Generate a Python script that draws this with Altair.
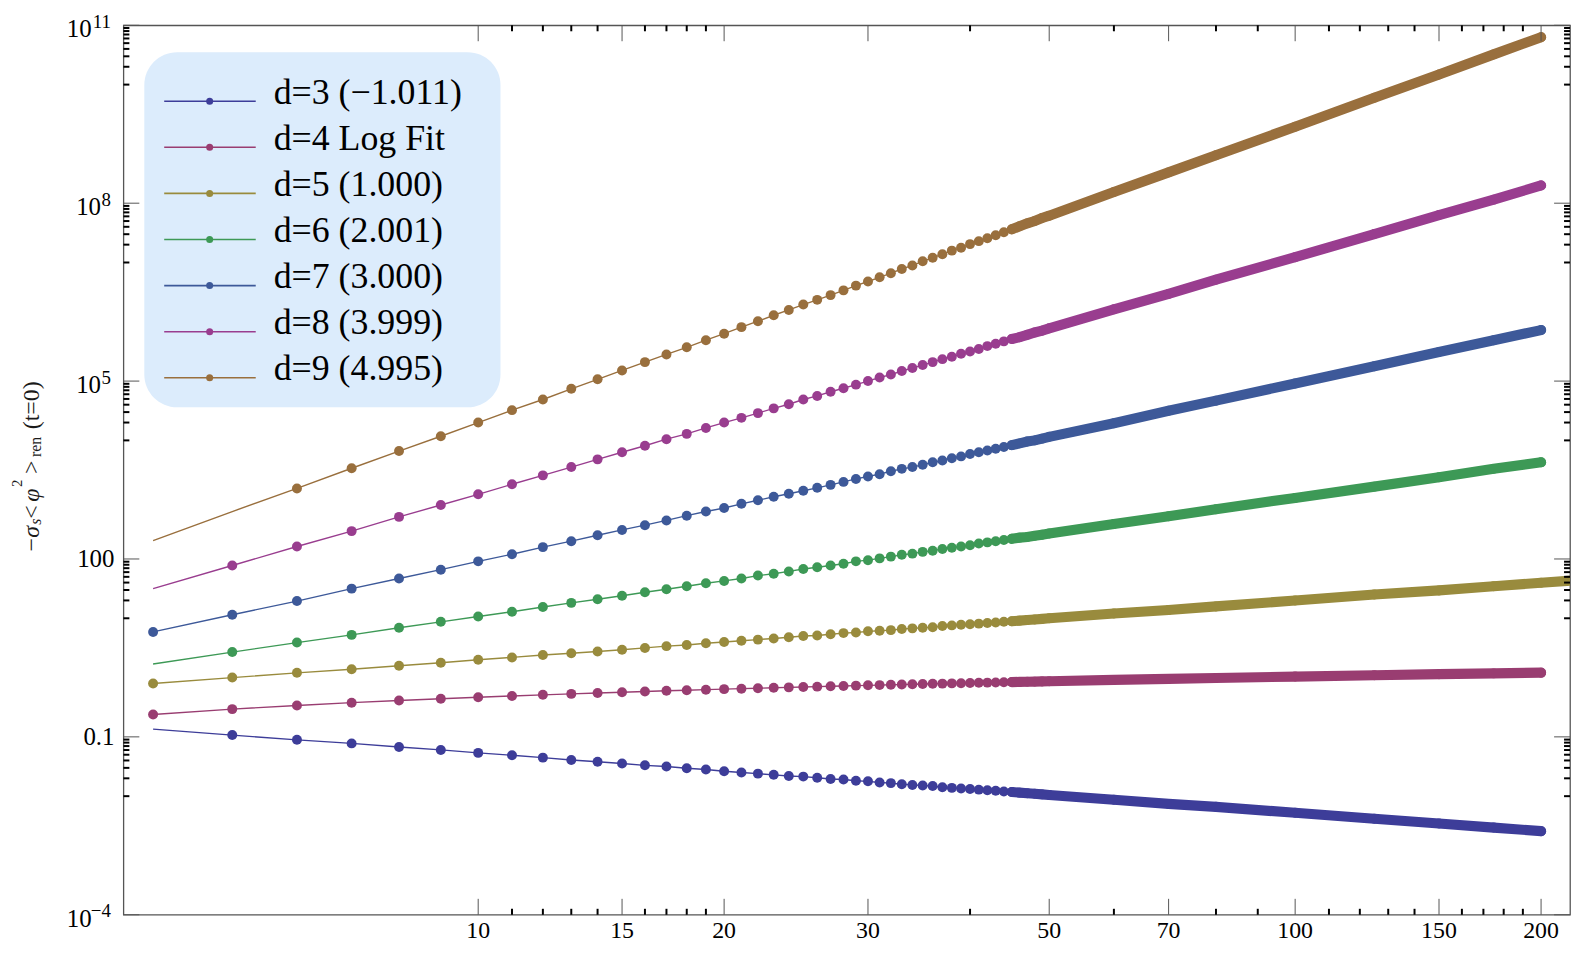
import altair as alt
import pandas as pd

# ---------------- data (log10 of -sigma_s <phi^2>_ren(t=0)) ----------------
X = list(range(4, 51)) + [60, 70, 80, 100, 125, 150, 175, 200]

DIMS = ["d=3", "d=4", "d=5", "d=6", "d=7", "d=8", "d=9"]
COLORS = ["#3d3d99", "#993d71", "#998b3d", "#3d9956", "#3d5999", "#993d8f", "#996f3d"]
LEGEND_LABELS = ["d=3 (\u22121.011)", "d=4 Log Fit", "d=5 (1.000)", "d=6 (2.001)",
                 "d=7 (3.000)", "d=8 (3.999)", "d=9 (4.995)"]
MARKER_FROM = [5, 4, 4, 5, 4, 5, 6]

LOG_D3 = [-0.87, -0.97, -1.05, -1.11, -1.17, -1.22, -1.27, -1.31, -1.35, -1.39, -1.42, -1.45,
          -1.48, -1.50, -1.53, -1.55, -1.58, -1.60, -1.62, -1.64, -1.66, -1.67, -1.69, -1.71,
          -1.72, -1.74, -1.75, -1.77, -1.78, -1.80, -1.81, -1.82, -1.83, -1.85, -1.86, -1.87,
          -1.88, -1.89, -1.90, -1.91, -1.92, -1.93, -1.94, -1.95, -1.96, -1.97, -1.98,
          -2.06, -2.13, -2.18, -2.28, -2.38, -2.46, -2.53, -2.59]
LOG_D4 = [-0.623, -0.532, -0.470, -0.423, -0.387, -0.357, -0.332, -0.310, -0.291, -0.275, -0.260,
          -0.247, -0.234, -0.223, -0.213, -0.204, -0.195, -0.187, -0.179, -0.172, -0.165, -0.159,
          -0.153, -0.147, -0.141, -0.136, -0.131, -0.127, -0.122, -0.118, -0.113, -0.109, -0.105,
          -0.102, -0.098, -0.095, -0.091, -0.088, -0.085, -0.082, -0.079, -0.076, -0.073, -0.070,
          -0.068, -0.065, -0.062,
          -0.040, -0.022, -0.007, 0.017, 0.039, 0.057, 0.071, 0.083]
LOG_D5 = [-0.10, 0.00, 0.08, 0.14, 0.20, 0.25, 0.30, 0.34, 0.38, 0.41, 0.44, 0.47, 0.50, 0.53,
          0.55, 0.58, 0.60, 0.62, 0.64, 0.66, 0.68, 0.70, 0.71, 0.73, 0.75, 0.76, 0.78, 0.79,
          0.80, 0.82, 0.83, 0.84, 0.85, 0.87, 0.88, 0.89, 0.90, 0.91, 0.92, 0.93, 0.94, 0.95,
          0.96, 0.97, 0.98, 0.99, 1.00,
          1.08, 1.14, 1.20, 1.30, 1.40, 1.47, 1.54, 1.60]
D5_EXTRA_X = [225]
D5_EXTRA = [1.65]
LOG_D6 = [0.23, 0.43, 0.59, 0.72, 0.84, 0.94, 1.03, 1.11, 1.19, 1.26, 1.32, 1.38, 1.44, 1.49,
          1.54, 1.59, 1.63, 1.67, 1.72, 1.75, 1.79, 1.83, 1.86, 1.89, 1.92, 1.96, 1.98, 2.01,
          2.04, 2.07, 2.09, 2.12, 2.14, 2.17, 2.19, 2.21, 2.23, 2.26, 2.28, 2.30, 2.32, 2.34,
          2.36, 2.37, 2.39, 2.41, 2.43,
          2.59, 2.72, 2.84, 3.03, 3.22, 3.38, 3.52, 3.63]
LOG_D7 = [0.77, 1.06, 1.29, 1.50, 1.67, 1.82, 1.96, 2.08, 2.20, 2.30, 2.40, 2.49, 2.57, 2.65,
          2.73, 2.80, 2.86, 2.93, 2.99, 3.05, 3.10, 3.15, 3.20, 3.25, 3.30, 3.35, 3.39, 3.43,
          3.48, 3.52, 3.55, 3.59, 3.63, 3.66, 3.70, 3.73, 3.77, 3.80, 3.83, 3.86, 3.89, 3.92,
          3.95, 3.98, 4.00, 4.03, 4.06,
          4.29, 4.50, 4.67, 4.96, 5.25, 5.49, 5.69, 5.86]
LOG_D8 = [1.50, 1.89, 2.21, 2.47, 2.71, 2.91, 3.09, 3.26, 3.41, 3.55, 3.68, 3.80, 3.91, 4.02,
          4.11, 4.21, 4.30, 4.38, 4.46, 4.54, 4.61, 4.69, 4.75, 4.82, 4.88, 4.94, 5.00, 5.06,
          5.11, 5.17, 5.22, 5.27, 5.32, 5.37, 5.41, 5.46, 5.50, 5.54, 5.59, 5.63, 5.67, 5.71,
          5.74, 5.78, 5.82, 5.85, 5.89,
          6.21, 6.47, 6.71, 7.09, 7.48, 7.80, 8.06, 8.30]
LOG_D9 = [2.31, 2.80, 3.19, 3.53, 3.82, 4.07, 4.30, 4.51, 4.69, 4.87, 5.03, 5.18, 5.32, 5.45,
          5.57, 5.69, 5.80, 5.91, 6.01, 6.11, 6.20, 6.29, 6.37, 6.45, 6.53, 6.61, 6.68, 6.75,
          6.82, 6.89, 6.95, 7.02, 7.08, 7.14, 7.20, 7.25, 7.31, 7.36, 7.41, 7.46, 7.51, 7.56,
          7.61, 7.66, 7.70, 7.75, 7.79,
          8.19, 8.52, 8.81, 9.29, 9.78, 10.17, 10.51, 10.80]

XTICK_MAJOR = [10, 15, 20, 30, 50, 70, 100, 150, 200]
XTICK_LABELS = ["10", "15", "20", "30", "50", "70", "100", "150", "200"]
XTICK_MINOR = [11, 12, 13, 14, 16, 17, 18, 19, 40, 60, 80, 90, 110, 120, 130, 140,
               160, 170, 180, 190]
YTICK_MAJOR = [1e-4, 0.1, 100, 1e5, 1e8, 1e11]
YLAB_BASE = ["10", "0.1", "100", "10", "10", "10"]
YLAB_EXP = ["\u22124", "", "", "5", "8", "11"]
YTICK_MINOR = [m * 10.0 ** k for k in (10, 7, 4, 1, -2) for m in range(1, 10)]

# ---------------- build tables ----------------
SERIES = [LOG_D3, LOG_D4, LOG_D5, LOG_D6, LOG_D7, LOG_D8, LOG_D9]
rows = []
for d, vals, mf in zip(DIMS, SERIES, MARKER_FROM):
    assert len(vals) == len(X), d
    xs_ = X + (D5_EXTRA_X if d == "d=5" else [])
    vs_ = vals + (D5_EXTRA if d == "d=5" else [])
    for xv, v in zip(xs_, vs_):
        rows.append({"d": d, "x": xv, "y": 10.0 ** v, "mk": xv >= mf, "band": xv >= 45})
df = pd.DataFrame(rows)

W, H = 1454, 894
SERIF = "Liberation Serif, Times New Roman, serif"

xs = alt.Scale(type="log", domain=[3.679, 217.0], nice=False)
ys = alt.Scale(type="log", domain=[1e-4, 1e11], nice=False)
cs = alt.Scale(domain=DIMS, range=COLORS)

XE = alt.X("x:Q", scale=xs, axis=None)
YE = alt.Y("y:Q", scale=ys, axis=None)
CE = alt.Color("d:N", scale=cs, legend=None)

base = alt.Chart(df)
thin = base.mark_line(strokeWidth=1.4, clip=True).encode(x=XE, y=YE, color=CE, order="x:Q")
dots = base.transform_filter("datum.mk").mark_circle(size=100, opacity=1, clip=True).encode(
    x=XE, y=YE, color=CE)
band = base.transform_filter("datum.band").mark_line(
    strokeWidth=10.2, strokeCap="round", clip=True).encode(x=XE, y=YE, color=CE, order="x:Q")

# ---------------- frame ticks ----------------
xmaj = alt.Chart(pd.DataFrame({"x": XTICK_MAJOR}))
xmin = alt.Chart(pd.DataFrame({"x": XTICK_MINOR}))
ymaj = alt.Chart(pd.DataFrame({"y": YTICK_MAJOR}))
ymin = alt.Chart(pd.DataFrame({"y": YTICK_MINOR}))
MAJ = dict(color="#555555", strokeWidth=1)
MIN = dict(color="#000000", strokeWidth=2)
ticks = [
    xmaj.mark_rule(**MAJ).encode(x=XE, y=alt.value(H), y2=alt.value(H - 16)),
    xmaj.mark_rule(**MAJ).encode(x=XE, y=alt.value(0), y2=alt.value(16)),
    xmin.mark_rule(**MIN).encode(x=XE, y=alt.value(H), y2=alt.value(H - 6)),
    xmin.mark_rule(**MIN).encode(x=XE, y=alt.value(0), y2=alt.value(6)),
    ymaj.mark_rule(**MAJ).encode(y=YE, x=alt.value(0), x2=alt.value(16)),
    ymaj.mark_rule(**MAJ).encode(y=YE, x=alt.value(W), x2=alt.value(W - 16)),
    ymin.mark_rule(**MIN).encode(y=YE, x=alt.value(0), x2=alt.value(6)),
    ymin.mark_rule(**MIN).encode(y=YE, x=alt.value(W), x2=alt.value(W - 6)),
]

# ---------------- tick labels ----------------
xlab = alt.Chart(pd.DataFrame({"x": XTICK_MAJOR, "t": XTICK_LABELS})).mark_text(
    font=SERIF, fontSize=24, align="center", baseline="alphabetic", color="black"
).encode(x=XE, y=alt.value(H + 23), text="t:N")

ylab_df = pd.DataFrame({"y": YTICK_MAJOR, "base": YLAB_BASE, "exp": YLAB_EXP})
ylab_df["n"] = ylab_df["exp"].str.len()
yl = alt.Chart(ylab_df)
TXT = dict(font=SERIF, align="right", baseline="middle", color="black")
ylabels = [
    yl.transform_filter("datum.n == 0").mark_text(fontSize=25, **TXT).encode(
        y=YE, x=alt.value(-9), text="base:N"),
    yl.transform_filter("datum.n == 1").mark_text(fontSize=25, dy=4, **TXT).encode(
        y=YE, x=alt.value(-22.5), text="base:N"),
    yl.transform_filter("datum.n == 2").mark_text(fontSize=25, dy=4, **TXT).encode(
        y=YE, x=alt.value(-32), text="base:N"),
    yl.transform_filter("datum.n > 0").mark_text(fontSize=19, dy=-3.5, **TXT).encode(
        y=YE, x=alt.value(-12.5), text="exp:N"),
]

# ---------------- y title (pieces, rotated) ----------------
ONE = pd.DataFrame({"k": [0]})


def piece(txt, px, py, size, style="normal"):
    return alt.Chart(ONE).mark_text(
        text=txt, angle=270, align="left", baseline="alphabetic", font=SERIF,
        fontSize=size, fontStyle=style, color="#1a1a1a"
    ).encode(x=alt.value(px), y=alt.value(py))


title = [
    piece("\u2212", -85, 529, 24),
    piece("\u03c3", -85, 515, 24, "italic"),
    piece("s", -83, 502, 16, "italic"),
    piece("<", -85, 496, 24),
    piece("\u03c6", -85, 479, 24, "italic"),
    piece("2", -101.5, 464, 15),
    piece(">", -85, 451, 24),
    piece("ren", -83, 434, 16),
    piece("(t=0)", -85, 406, 24),
]

# ---------------- legend ----------------
leg_df = pd.DataFrame({"d": DIMS, "label": LEGEND_LABELS, "i": list(range(len(DIMS)))})
leg = alt.Chart(leg_df).transform_calculate(ly="76.3 + 46.33 * datum.i",
                                            ty="78.9 + 46.33 * datum.i")
LY = alt.Y("ly:Q", scale=None, axis=None)
legend = [
    alt.Chart(ONE).mark_rect(cornerRadius=33, color="#dcecfc").encode(
        x=alt.value(21), x2=alt.value(379), y=alt.value(27), y2=alt.value(384)),
    leg.mark_rule(strokeWidth=1.6).encode(x=alt.value(41), x2=alt.value(133), y=LY, color=CE),
    leg.mark_circle(size=50, opacity=1).encode(x=alt.value(86.7), y=LY, color=CE),
    leg.mark_text(font=SERIF, fontSize=36, align="left", baseline="alphabetic",
                  color="black").encode(x=alt.value(151),
                                        y=alt.Y("ty:Q", scale=None, axis=None),
                                        text="label:N"),
]

chart = alt.layer(
    thin, dots, band, *ticks, xlab, *ylabels, *title, *legend
).properties(
    width=W, height=H,
    padding={"left": 116, "top": 15, "right": 3, "bottom": 29},
    autosize=alt.AutoSizeParams(type="none"),
    background="white",
).configure_view(stroke="#555555", strokeWidth=1.3)

chart.save("out.html", embed_options={"renderer": "svg", "actions": False})
